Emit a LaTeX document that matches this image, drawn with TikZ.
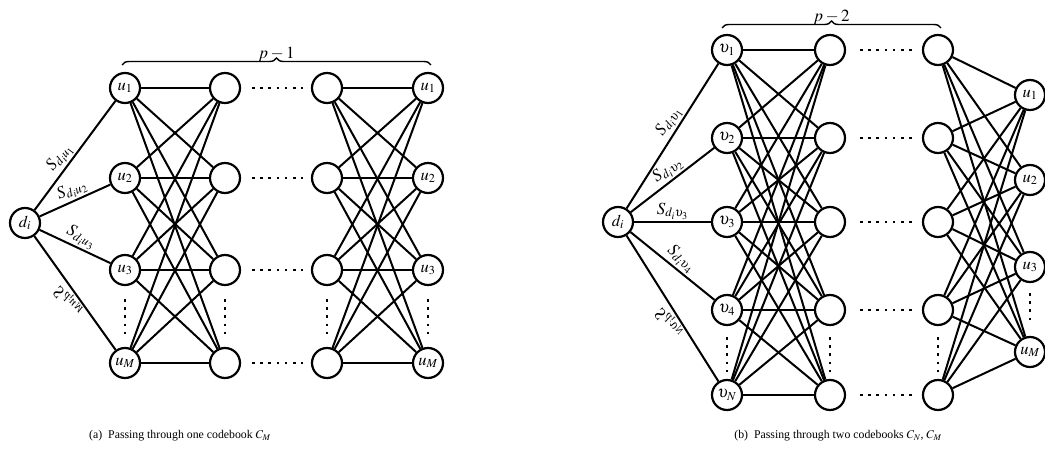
\documentclass[tikz,border=0pt]{standalone}
\usepackage{mathptmx}
\usepackage{fontspec}
\setmainfont{Liberation Serif}
\usetikzlibrary{decorations.pathreplacing,backgrounds}
\begin{document}
\begin{tikzpicture}[x=1pt,y=-1pt,
  vtx/.style={circle,draw,line width=2.2pt,fill=white,minimum size=30pt,inner sep=0pt,font=\fontsize{16.5}{16.5}\selectfont},
  link/.style={line width=2pt},
  dotrow/.style={line width=2.6pt,dash pattern=on 2.6pt off 5.6pt},
  elabel/.style={font=\fontsize{17}{17}\selectfont,inner sep=1.5pt},
  flipped/.style={elabel,rotate=#1,yscale=-1,transform shape,anchor=south},
  brc/.style={decorate,decoration={brace,amplitude=7pt},line width=1.4pt},
  blabel/.style={midway,above=1pt,inner sep=1pt,font=\fontsize{17}{17}\selectfont},
  capt/.style={font=\fontsize{11.8}{12}\selectfont}]
\useasboundingbox (0,0) rectangle (1045,468);

% ---------- (a) one codebook ----------
\node[vtx] (Ld) at (25,223) {$d_i$};
\foreach \y/\t [count=\k] in {88/1,178/2,270/3,363/M}{
  \node[vtx] (La\k) at (125,\y) {$u_\t$};
  \node[vtx] (Lb\k) at (225,\y) {};
  \node[vtx] (Lc\k) at (327,\y) {};
  \node[vtx] (Le\k) at (428,\y) {$u_\t$};
  \draw[dotrow] (252,\y) -- (303,\y);
}
\begin{scope}[on background layer]
  \foreach \i in {1,...,4}{
    \foreach \j in {1,...,4}{
      \draw[link] (La\i) -- (Lb\j);
      \draw[link] (Lc\i) -- (Le\j);
    }
  }
  \draw[link] (Ld) -- node[elabel,sloped,above,pos=0.42]{$S_{d_iu_1}$} (La1);
  \draw[link] (Ld) -- node[elabel,sloped,above,pos=0.52]{$S_{d_iu_2}$} (La2);
  \draw[link] (Ld) -- node[elabel,sloped,above,pos=0.52]{$S_{d_iu_3}$} (La3);
  \draw[link] (Ld) -- node[flipped=-54.2,pos=0.52]{$S_{d_iu_M}$} (La4);
\end{scope}
\foreach \x in {125,225,327,428}{
  \draw[dotrow] (\x,299) -- (\x,336);
}
\draw[brc] (122,65) -- (431,65) node[blabel] (Lp) {$p-1$};
\node[capt] (Lcap) at (180,436) {(a)\ \ Passing through one codebook $C_M$};

% ---------- (b) two codebooks ----------
\node[vtx] (Rd) at (618,222) {$d_i$};
\foreach \y/\t [count=\k] in {50/1,138/2,222/3,310/4,395/N}{
  \node[vtx] (Ra\k) at (727,\y) {$\upsilon_\t$};
  \node[vtx] (Rb\k) at (830,\y) {};
  \node[vtx] (Rc\k) at (938,\y) {};
  \draw[dotrow] (860,\y) -- (912,\y);
}
\foreach \y/\t [count=\k] in {95/1,180/2,267/3,352/M}{
  \node[vtx] (Re\k) at (1030,\y) {$u_\t$};
}
\begin{scope}[on background layer]
  \foreach \i in {1,...,5}{
    \foreach \j in {1,...,5}{
      \draw[link] (Ra\i) -- (Rb\j);
    }
    \foreach \j in {1,...,4}{
      \draw[link] (Rc\i) -- (Re\j);
    }
  }
  \draw[link] (Rd) -- node[elabel,sloped,above,pos=0.56]{$S_{d_i\upsilon_1}$} (Ra1);
  \draw[link] (Rd) -- node[elabel,sloped,above,pos=0.52]{$S_{d_i\upsilon_2}$} (Ra2);
  \draw[link] (Rd) -- node[elabel,sloped,above,pos=0.5]{$S_{d_i\upsilon_3}$} (Ra3);
  \draw[link] (Rd) -- node[elabel,sloped,above,pos=0.52]{$S_{d_i\upsilon_4}$} (Ra4);
  \draw[link] (Rd) -- node[flipped=-57.8,pos=0.56]{$S_{d_i\upsilon_N}$} (Ra5);
\end{scope}
\foreach \x in {727,830,938}{
  \draw[dotrow] (\x,337) -- (\x,372);
}
\draw[dotrow] (1030,293) -- (1030,325);
\draw[brc] (722,28) -- (941,28) node[blabel] (Rp) {$p-2$};
\node[capt] (Rcap) at (838,436) {(b)\ \ Passing through two codebooks $C_N$, $C_M$};
\end{tikzpicture}
\end{document}
